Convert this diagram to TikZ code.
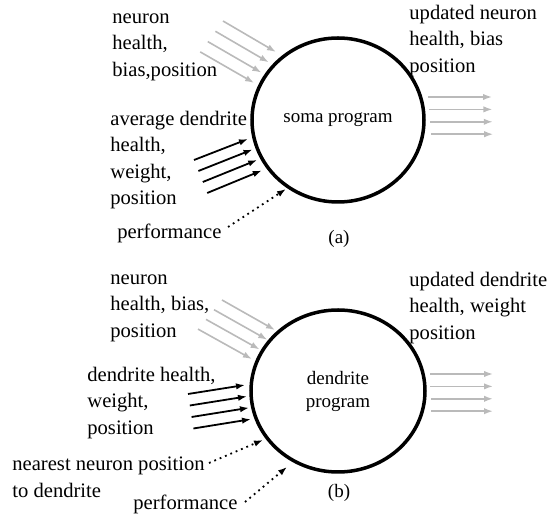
\documentclass[tikz,border=0pt]{standalone}
\usepackage{fontspec}
\setmainfont{Liberation Serif}
\usetikzlibrary{arrows.meta,shapes.geometric}

\begin{document}
\begin{tikzpicture}[x=0.5pt,y=-0.5pt]
	\tikzstyle{Txt}  = [font=\fontsize{10.3}{13.3}\selectfont, align=left, inner sep=0pt, anchor=west]
	\tikzstyle{Prog} = [draw, ellipse, line width=1.75pt, inner sep=0pt, align=center, font=\fontsize{9.5}{11.5}\selectfont]
	\tikzstyle{Grey} = [->, >={Latex[length=4.5pt,width=3.2pt]}, black!27, line width=0.8pt]
	\tikzstyle{Dark} = [->, >={Latex[length=4.5pt,width=3.2pt]}, line width=0.9pt]
	\tikzstyle{Dots} = [Dark, dotted]

	\useasboundingbox (0,0) rectangle (553,523);

	% (a) soma program
	\node[Prog, minimum width=86pt, minimum height=82pt] (Soma) at (338,120) {soma program};
	\node[Txt] (aNeuron) at (112,47) {neuron\\health,\\bias,position};
	\node[Txt] (aDend) at (110,160) {average dendrite\\health,\\weight,\\position};
	\node[Txt] (aPerf) at (117,233) {performance};
	\node[Txt] (aOut) at (409,41) {updated neuron\\health, bias\\position};
	\node[font=\fontsize{9.5}{11.5}\selectfont] (aCap) at (339,239) {(a)};

	\coordinate (aGin) at (223,21);   \coordinate (aGinEnd) at (276,52);
	\coordinate (aBin) at (194,160);  \coordinate (aBinEnd) at (248,139);
	\coordinate (aOutS) at (428,97);  \coordinate (aOutE) at (492,97);
	\coordinate (aPerfS) at (228,227); \coordinate (aPerfE) at (286,189);
	\foreach \i in {0,...,3}{
		\draw[Grey] ([shift={(-7.6*\i,10.3*\i)}]aGin) -- ([shift={(-7.3*\i,10.3*\i)}]aGinEnd);
		\draw[Dark] ([shift={(4.4*\i,11*\i)}]aBin) -- ([shift={(4.6*\i,10.5*\i)}]aBinEnd);
		\draw[Grey] ([shift={(\i,12.4*\i)}]aOutS) -- ([shift={(0.4*\i,12.4*\i)}]aOutE);
	}
	\draw[Dots] (aPerfS) -- (aPerfE);

	% (b) dendrite program
	\node[Prog, minimum width=87pt, minimum height=81pt] (Dend) at (338,391) {dendrite\\program};
	\node[Txt] (bNeuron) at (110,308) {neuron\\health, bias,\\position};
	\node[Txt] (bDend) at (87,403) {dendrite health,\\weight,\\position};
	\node[Txt] (bNear) at (12,477) {nearest neuron position\\to dendrite};
	\node[Txt] (bPerf) at (133,504) {performance};
	\node[Txt] (bOut) at (409,308) {updated dendrite\\health, weight\\position};
	\node[font=\fontsize{9.5}{11.5}\selectfont] (bCap) at (339,493) {(b)};

	\coordinate (bGin) at (222,300);  \coordinate (bGinEnd) at (275,330);
	\coordinate (bBin) at (188,394);  \coordinate (bBinEnd) at (245,385);
	\coordinate (bOutS) at (430,374); \coordinate (bOutE) at (493,374);
	\coordinate (bNearS) at (209,463); \coordinate (bNearE) at (263,440);
	\coordinate (bPerfS) at (245,502); \coordinate (bPerfE) at (287,467);
	\foreach \i in {0,...,3}{
		\draw[Grey] ([shift={(-8*\i,9.7*\i)}]bGin) -- ([shift={(-7.7*\i,9.7*\i)}]bGinEnd);
		\draw[Dark] ([shift={(1.8*\i,11.5*\i)}]bBin) -- ([shift={(2*\i,11.4*\i)}]bBinEnd);
		\draw[Grey] ([shift={(0.4*\i,12.4*\i)}]bOutS) -- ([shift={(0,12.4*\i)}]bOutE);
	}
	\draw[Dots] (bNearS) -- (bNearE);
	\draw[Dots] (bPerfS) -- (bPerfE);
\end{tikzpicture}
\end{document}
